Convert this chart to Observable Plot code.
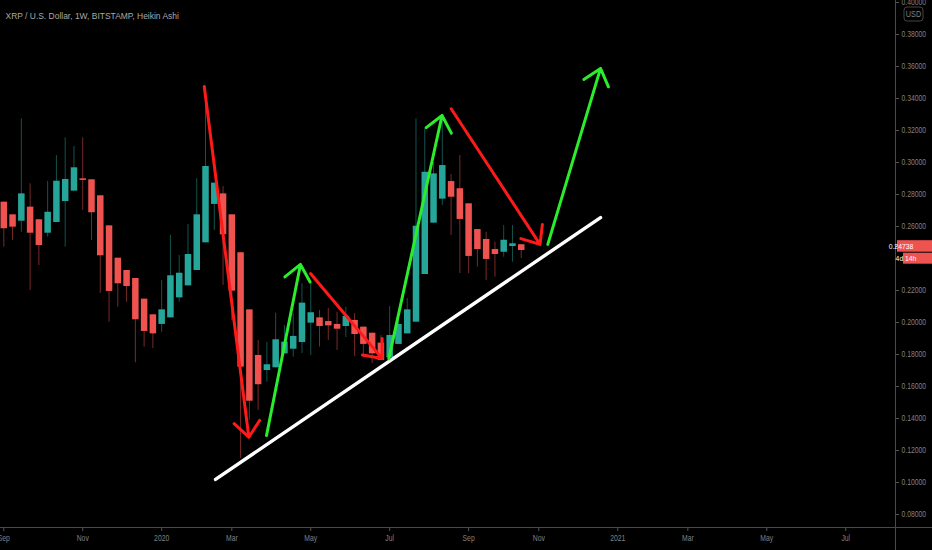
<!DOCTYPE html>
<html><head><meta charset="utf-8">
<script src="https://cdn.jsdelivr.net/npm/d3@7"></script>
<script src="https://cdn.jsdelivr.net/npm/@observablehq/plot@0.6"></script>
<style>
html,body{margin:0;padding:0;background:#000;}
#chart{width:932px;height:550px;overflow:hidden;}
</style></head><body><div id="chart"></div>
<script>
// ---------- data ----------
const title = "XRP / U.S. Dollar, 1W, BITSTAMP, Heikin Ashi";
const firstWeek = "2019-08-26"; // weekly Heikin Ashi bars, one every 7 days
const opens  = [0.2752,0.2673,0.2633,0.2721,0.2642,0.2558,0.2625,0.2756,0.2821,0.2898,
                0.2892,0.2792,0.2604,0.2402,0.2325,0.2275,0.2146,0.2048,0.1988,0.2029,
                0.2154,0.2229,0.2325,0.2498,0.2738,0.2804,0.2673,0.2436,0.2079,0.1794,
                0.1700,0.1717,0.1804,0.1833,0.1875,0.1996,0.2029,0.2006,0.1988,0.1975,
                0.2013,0.1971,0.1933,0.1871,0.1779,0.1863,0.1929,0.2002,0.2300,0.2621,
                0.2771,0.2881,0.2836,0.2742,0.2581,0.2519,0.2456,0.2439,0.2475,0.2486];
const highs  = [0.2752,0.2673,0.3273,0.2867,0.2642,0.2881,0.3044,0.3154,0.3100,0.3154,
                0.2892,0.2792,0.2604,0.2402,0.2325,0.2275,0.2146,0.2048,0.2263,0.2544,
                0.2419,0.2613,0.2898,0.3475,0.2871,0.2850,0.2673,0.2436,0.2079,0.1888,
                0.1875,0.2058,0.1981,0.2058,0.2242,0.2244,0.2075,0.2088,0.2064,0.2096,
                0.2056,0.1971,0.1933,0.1919,0.2100,0.2050,0.2150,0.3273,0.3211,0.3000,
                0.3275,0.2925,0.3044,0.2742,0.2581,0.2564,0.2502,0.2606,0.2606,0.2486];
const lows   = [0.2471,0.2513,0.2564,0.2200,0.2356,0.2533,0.2625,0.2471,0.2821,0.2700,
                0.2513,0.2183,0.2002,0.2096,0.2127,0.1748,0.1846,0.1836,0.1939,0.2029,
                0.2127,0.2229,0.2325,0.2498,0.2575,0.2231,0.2013,0.1150,0.1388,0.1450,
                0.1627,0.1717,0.1804,0.1783,0.1806,0.1794,0.1846,0.1888,0.1825,0.1906,
                0.1788,0.1783,0.1744,0.1763,0.1779,0.1863,0.1929,0.2002,0.2300,0.2621,
                0.2731,0.2544,0.2306,0.2306,0.2346,0.2263,0.2283,0.2408,0.2377,0.2400];
const closes = [0.2586,0.2596,0.2804,0.2558,0.2481,0.2689,0.2883,0.2894,0.2967,0.2888,
                0.2686,0.2417,0.2194,0.2242,0.2225,0.2017,0.1944,0.1929,0.2079,0.2292,
                0.2308,0.2425,0.2673,0.2975,0.2871,0.2548,0.2196,0.1721,0.1508,0.1611,
                0.1736,0.1892,0.1877,0.1913,0.2121,0.2061,0.1975,0.1979,0.1958,0.2038,
                0.1925,0.1863,0.1804,0.1763,0.1919,0.1988,0.2079,0.2602,0.2939,0.2929,
                0.2981,0.2783,0.2644,0.2413,0.2456,0.2394,0.2425,0.2514,0.2492,0.2450];

const tickDates  = ["2019-08-26","2019-10-28","2019-12-30","2020-02-24","2020-04-27","2020-06-29",
                    "2020-08-31","2020-10-26","2020-12-28","2021-02-22","2021-04-26","2021-06-28"];
const tickLabels = ["Sep","Nov","2020","Mar","May","Jul","Sep","Nov","2021","Mar","May","Jul"];
// 0.24 is hidden behind the last-price label in the reference
const priceTicks = [0.08,0.10,0.12,0.14,0.16,0.18,0.20,0.22,0.26,0.28,0.30,0.32,0.34,0.36,0.38,0.40];
const xDomain = ["2019-08-23T08:47Z","2021-08-06T17:30Z"];
const yDomain = [0.071875, 0.40125];
const lastPrice = 0.24738;
const countdown = "4d 14h";
const currency = "USD";

// drawn annotations (time, price)
const arrowKind   = ["fall","rise","fall","rise","fall","rise"];
const arrowStartT = ["2020-02-02T00:00Z","2020-03-22T17:00Z","2020-04-26T19:00Z","2020-06-28T07:00Z","2020-08-17T02:00Z","2020-11-02T05:00Z"];
const arrowStartP = [0.3475,0.1294,0.2306,0.1773,0.3336,0.2488];
const arrowEndT   = ["2020-03-08T14:00Z","2020-04-18T19:00Z","2020-06-23T00:00Z","2020-08-09T19:00Z","2020-10-27T00:00Z","2020-12-14T07:00Z"];
const arrowEndP   = [0.1283,0.2363,0.1775,0.3294,0.2488,0.3588];
const trendT = ["2020-02-11T00:00Z","2020-12-14T07:00Z"];
const trendP = [0.1019,0.2656];

// ---------- build ----------
const start = new Date(firstWeek);
const bars = opens.map((o,i)=>({
  date: d3.utcDay.offset(start, 7*i), open:o, high:highs[i], low:lows[i], close:closes[i]
}));
const arrows = arrowKind.map((k,i)=>({kind:k, x1:new Date(arrowStartT[i]), y1:arrowStartP[i], x2:new Date(arrowEndT[i]), y2:arrowEndP[i]}));
const trend = trendT.map((t,i)=>({x:new Date(t), y:trendP[i]}));
const labelMap = new Map(tickDates.map((d,i)=>[+new Date(d), tickLabels[i]]));

const UP="#26a69a", DOWN="#ef5350";
const col = d => d.close >= d.open ? UP : DOWN;
const arrowCol = {fall:"#ff1a1a", rise:"#2ced2c"};
const AXC = "#808080";

const chart = Plot.plot({
  width: 932, height: 550,
  marginLeft: 0, marginRight: 37, marginTop: 0, marginBottom: 23,
  style: {background:"#000", color: AXC, fontFamily:"'Liberation Sans', Arial, sans-serif", fontSize:"8.5px"},
  x: {type:"utc", domain: xDomain.map(d=>new Date(d))},
  y: {domain: yDomain},
  marks: [
    Plot.ruleX(bars, {x:"date", y1:"low", y2:"high", stroke: col, strokeOpacity:0.5, strokeWidth:1}),
    Plot.ruleX(bars, {x:"date", y1:"open", y2:"close", stroke: col, strokeWidth:6.5}),
    Plot.line(trend, {x:"x", y:"y", stroke:"#ffffff", strokeWidth:3.4, strokeLinecap:"round"}),
    Plot.arrow(arrows, {x1:"x1", y1:"y1", x2:"x2", y2:"y2", stroke: d=>arrowCol[d.kind], strokeWidth:3, headLength:10, headAngle:80, strokeLinecap:"round", strokeLinejoin:"round"}),
    Plot.axisY(priceTicks, {anchor:"right", tickFormat: d3.format(".5f"), tickSize:3, tickPadding:3, label:null, stroke:"#555", fill:AXC}),
    Plot.axisX(tickDates.map(d=>new Date(d)), {anchor:"bottom", tickFormat: d=>labelMap.get(+d), tickSize:4, tickPadding:3, label:null, stroke:"#555", fill:AXC}),
    Plot.text([title], {frameAnchor:"top-left", dx:5, dy:15, lineAnchor:"middle", textAnchor:"start", fill:"#a8a8a8", fontSize:9.5})
  ]
});
document.getElementById("chart").appendChild(chart);

// ---------- decorations ----------
const svg = d3.select(chart);
const xr = chart.scale("x").range, yr = chart.scale("y").range;
const right = Math.max(...xr), bottom = Math.max(...yr);
svg.append("line").attr("x1",right+0.5).attr("x2",right+0.5).attr("y1",0).attr("y2",550).attr("stroke","#4a4a4a");
svg.append("line").attr("x1",0).attr("x2",932).attr("y1",bottom+0.5).attr("y2",bottom+0.5).attr("stroke","#4a4a4a");

// USD box
svg.append("rect").attr("x",right+9).attr("y",7).attr("width",19).attr("height",14).attr("rx",3)
  .attr("fill","#000").attr("stroke","#444");
svg.append("text").attr("class","sq").attr("x",right+18.5).attr("y",14).attr("dy","0.35em")
  .attr("text-anchor","middle").attr("fill",AXC).attr("font-size",8.5).text(currency);

// last price + countdown
const yp = chart.scale("y").apply(lastPrice);
svg.append("line").attr("x1",right).attr("x2",right+3).attr("y1",yp).attr("y2",yp).attr("stroke","#ddd");
svg.append("rect").attr("x",right+2).attr("y",yp-6).attr("width",40).attr("height",11.5).attr("fill",DOWN);
svg.append("text").attr("class","sq").attr("x",right+6).attr("y",yp).attr("dy","0.35em").attr("fill","#fff").attr("font-size",8).text(d3.format(".5f")(lastPrice));
svg.append("rect").attr("x",right+8).attr("y",yp+6.5).attr("width",40).attr("height",11).attr("fill",DOWN);
svg.append("text").attr("class","sq").attr("x",right+11).attr("y",yp+12.2).attr("dy","0.35em").attr("fill","#fff").attr("font-size",8).text(countdown);

// horizontally condense text like the reference (glyphs squeezed in place)
function squish(el, s){
  const n = el.getComputedTextLength();
  if (n > 0){
    el.setAttribute("textLength", (n*s).toFixed(2));
    el.setAttribute("lengthAdjust", "spacingAndGlyphs");
  }
}
chart.querySelectorAll("g[aria-label$='tick label'] text").forEach(el=>squish(el,0.8));
chart.querySelectorAll("g[aria-label='text'] text").forEach(el=>squish(el,0.89));
chart.querySelectorAll("text.sq").forEach(el=>squish(el,0.85));
</script></body></html>
